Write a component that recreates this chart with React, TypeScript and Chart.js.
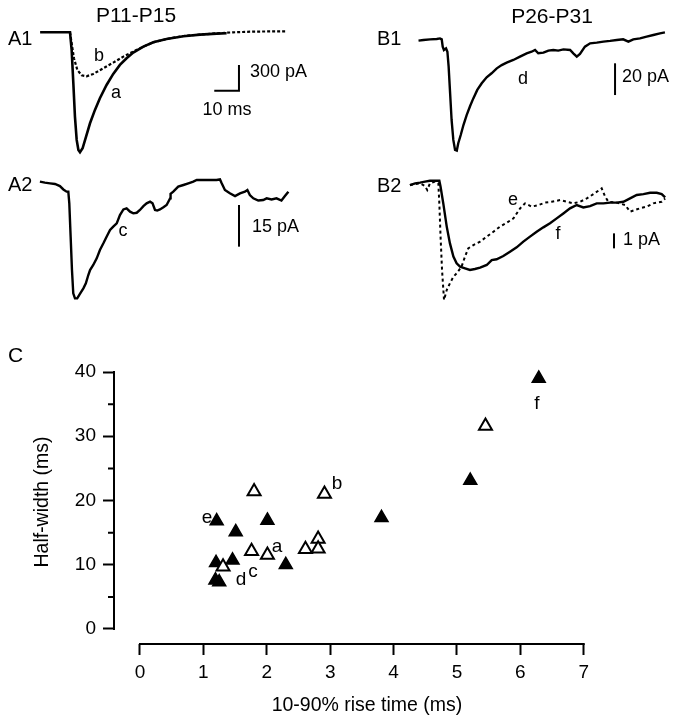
import React, { useEffect, useRef } from 'react';
import { Chart, registerables } from 'chart.js';

Chart.register(...registerables);

const FONT = "'Liberation Sans', Arial, Helvetica, sans-serif";
Chart.defaults.font.family = FONT;
Chart.defaults.color = '#000';

// ---------- Panel A1 (P11-P15): traces a (solid) and b (dashed) ----------
const a_time = [-12.1, 0, 0.67, 1.35, 2.0, 2.7, 3.4, 4.05, 5.1, 6.5, 8.1, 10.1, 12.1, 14.8, 17.5, 20.2, 22.9, 25.6, 29.7, 33.7, 39.1, 45.9, 52.6, 59.4, 63.4];
const a_pA = [0, 0, -206, -595, -984, -1256, -1373, -1400, -1354, -1218, -1062, -906, -770, -615, -486, -381, -303, -237, -167, -117, -78, -47, -27, -16, -12];
const b_time = [0, 0.67, 1.6, 2.97, 4.7, 6.7, 9.4, 13.5, 17.5, 21.6, 25.6, 29.7, 33.7, 39.1, 45.9, 52.6, 59.4, 66.0, 74.2, 87.7];
const b_pA = [0, -128, -303, -440, -502, -513, -486, -420, -354, -284, -226, -167, -117, -78, -43, -27, -12, 0, 8, 12];
const A1_barMs = 10;
const A1_barPA = 300;
const A1_barCorner = [68.4, -681];

// ---------- Panel A2: trace c ----------
const c_time = [-11.9, -9.9, -7.8, -5.8, -3.8, -2.4, -1.1, -0.4, 0, 0.54, 1.08, 1.6, 2.3, 3.2, 4.3, 5.7, 6.7, 7.7, 8.4, 9.7, 11.1, 12.4, 13.8, 15.1, 16.5, 17.8, 19.2, 20.5, 21.9, 23.2, 24.6, 25.9, 27.3, 28.6, 30.0, 31.3, 32.7, 33.7, 34.7, 35.6, 36.7, 38.1, 39.4, 40.8, 41.0, 42.1, 44.1, 46.2, 48.2, 50.2, 51.6, 54.3, 56.9, 59.6, 61.0, 61.7, 63.0, 65.0, 67.1, 69.1, 71.1, 72.1, 73.1, 74.5, 76.5, 78.5, 79.9, 81.9, 83.9, 85.9, 87.3, 88.7];
const c_pA = [0.6, 0.24, 0, -0.24, -1.0, -2.2, -3.0, -3.0, -7.2, -19.2, -31.2, -39.6, -41.4, -41.4, -39.8, -37.8, -36, -33, -31.2, -29.4, -27, -24, -21.6, -19.2, -16.8, -15.6, -14.4, -11.4, -9.4, -9.0, -10.2, -10.8, -10.6, -9.6, -8.2, -7.2, -6.6, -7.2, -9.6, -9.8, -9.4, -8.6, -7.8, -5.4, -3.8, -3.0, -1.2, -0.6, 0, 0.6, 1.2, 1.2, 1.2, 1.2, 1.4, 0, -2.4, -3.6, -4.6, -3.6, -3.0, -2.4, -4.2, -5.4, -6.2, -6.0, -5.4, -5.8, -5.4, -6.2, -4.6, -3.0];
const A2_barPA = 15;
const A2_barBottom = [68.7, -22.8];

// ---------- Panel B1 (P26-P31): trace d ----------
const d_time = [-9.4, -7.4, -4.7, -2.0, -0.7, 0, 0.4, 0.9, 1.75, 2.3, 2.8, 3.4, 4.0, 4.7, 5.4, 6.1, 6.7, 7.7, 8.8, 10.1, 11.5, 12.8, 14.4, 16.2, 18.2, 20.2, 22.3, 24.3, 26.3, 29.0, 31.7, 34.4, 36.4, 37.8, 39.1, 41.2, 43.2, 45.2, 47.2, 49.3, 52.0, 53.3, 54.7, 56.0, 58.0, 60.1, 62.8, 65.5, 68.2, 70.9, 73.5, 75.6, 77.6, 80.3, 83.0, 85.7, 88.4, 90.4];
const d_pA = [-0.4, 0, 0.4, 0.6, 1.0, 0.4, -4.2, -6.3, -5.3, -7.4, -16.8, -33.6, -50.4, -63, -69.3, -69.7, -65.1, -59.9, -53.6, -47.3, -41.6, -36.8, -31.5, -27.3, -23.5, -21, -17.9, -15.8, -14.3, -12.6, -10.5, -8.4, -7.4, -6.3, -8.4, -8.0, -6.7, -6.3, -6.7, -5.9, -6.3, -8.4, -10.5, -8.8, -4.2, -2.1, -1.7, -1.05, -0.6, 0, 0.4, -1.05, 0.4, 1.05, 2.1, 3.15, 4.2, 4.8];
const B1_barPA = 20;
const B1_barBottom = [70.2, -34.7];

// ---------- Panel B2: traces e (dashed) and f (solid) ----------
const e_time = [-11.5, -9.4, -7.4, -5.4, -4.5, -3.4, -1.3, 0, 0.4, 0.9, 1.5, 2.3, 3.4, 4.7, 6.1, 7.4, 9.4, 10.8, 12.1, 14.2, 16.9, 19.6, 22.3, 25.0, 27.7, 30.4, 33.1, 35.1, 37.8, 40.5, 43.2, 45.9, 49.3, 52.0, 54.7, 57.4, 60.1, 62.8, 66.1, 67.5, 68.8, 72.2, 75.6, 77.6, 79.6, 81.6, 84.3, 87.0, 90.4, 91.8];
const e_pA = [-0.07, 0, 0.04, -0.13, -0.4, 0.04, 0.16, 0.04, -1.29, -3.51, -5.73, -7.73, -7.07, -6.62, -6.18, -5.96, -5.51, -4.84, -4.29, -4.07, -3.84, -3.51, -3.18, -2.84, -2.58, -2.29, -1.62, -1.29, -1.51, -1.4, -1.24, -1.18, -1.07, -1.18, -1.29, -1.18, -0.96, -0.67, -0.29, -0.84, -1.18, -1.24, -1.4, -1.84, -1.73, -1.62, -1.51, -1.29, -1.18, -0.96];
const f_time = [-11.5, -9.4, -7.4, -5.4, -3.4, -1.3, 0.4, 0.9, 2.0, 3.4, 4.7, 6.1, 7.4, 8.8, 10.8, 12.8, 14.8, 16.9, 19.6, 21.6, 23.6, 26.3, 29.0, 31.7, 34.4, 37.1, 39.8, 42.5, 45.2, 47.9, 50.6, 53.3, 56.0, 58.7, 61.4, 64.1, 66.8, 69.5, 72.2, 74.9, 77.6, 80.3, 83.0, 85.7, 88.4, 90.4, 91.8];
const f_pA = [-0.07, 0.04, 0.09, 0.16, 0.22, 0.22, 0.22, -0.18, -1.29, -2.84, -3.96, -4.84, -5.29, -5.51, -5.62, -5.73, -5.67, -5.58, -5.4, -5.07, -5.02, -4.8, -4.51, -4.22, -3.84, -3.51, -3.18, -2.89, -2.62, -2.29, -1.96, -1.62, -1.4, -1.56, -1.47, -1.29, -1.29, -1.24, -1.24, -1.18, -0.96, -0.73, -0.67, -0.58, -0.58, -0.67, -0.89];
const B2_barPA = 1;
const B2_barBottom = [71.1, -4.29];

// ---------- Panel C: scatter ----------
const openRise = [1.80, 2.91, 2.81, 2.81, 2.61, 1.76, 2.01, 1.31, 5.45];
const openHalfWidth = [21.4, 21.0, 14.0, 12.5, 12.4, 12.1, 11.5, 9.7, 31.6];
const filledRise = [1.21, 2.01, 3.81, 1.51, 2.30, 1.46, 1.20, 1.19, 1.25, 5.21, 6.29];
const filledHalfWidth = [16.8, 16.9, 17.3, 15.1, 10.0, 10.7, 10.3, 7.6, 7.3, 23.1, 39.0];
const xTicks = [0, 1, 2, 3, 4, 5, 6, 7];
const yTicks = [0, 10, 20, 30, 40];
const yMinorTicks = [5, 15, 25, 35];

const zip = (xs: number[], ys: number[]) => xs.map((x, i) => ({ x, y: ys[i] }));

function traceDs(data: { x: number; y: number }[], dash: number[] = [], width = 2.4) {
  return {
    data,
    showLine: true,
    borderColor: '#000',
    backgroundColor: '#000',
    borderWidth: width,
    borderDash: dash,
    pointRadius: 0,
    fill: false,
    tension: 0,
  };
}

function makeTrace(canvas: HTMLCanvasElement, datasets: any[], range: number[]) {
  return new Chart(canvas, {
    type: 'scatter',
    data: { datasets },
    options: {
      animation: false,
      responsive: false,
      events: [],
      layout: { padding: 0 },
      plugins: { legend: { display: false }, tooltip: { enabled: false } },
      scales: {
        x: { type: 'linear', display: false, min: range[0], max: range[1] },
        y: { type: 'linear', display: false, min: range[2], max: range[3] },
      },
    },
  } as any);
}

const axesPlugin = {
  id: 'detachedAxes',
  afterDraw(chart: any) {
    const { ctx, scales } = chart;
    const x = scales.x;
    const y = scales.y;
    const area = chart.chartArea;
    ctx.save();
    ctx.strokeStyle = '#000';
    ctx.lineWidth = 2;
    ctx.beginPath();
    ctx.moveTo(x.getPixelForValue(xTicks[0]) - 1, area.bottom);
    ctx.lineTo(x.getPixelForValue(xTicks[xTicks.length - 1]) + 1, area.bottom);
    ctx.moveTo(area.left, y.getPixelForValue(yTicks[0]) + 1);
    ctx.lineTo(area.left, y.getPixelForValue(yTicks[yTicks.length - 1]) - 1);
    yMinorTicks.forEach((v) => {
      const py = y.getPixelForValue(v);
      ctx.moveTo(area.left - 6, py);
      ctx.lineTo(area.left, py);
    });
    ctx.stroke();
    ctx.restore();
  },
};

const Label = ({ x, y, text, size = 18, left = false }: { x: number; y: number; text: string; size?: number; left?: boolean }) => (
  <div
    style={{
      position: 'absolute',
      left: x,
      top: y,
      transform: left ? 'translate(0,-50%)' : 'translate(-50%,-50%)',
      fontSize: size,
      lineHeight: 1,
      whiteSpace: 'nowrap',
      fontFamily: FONT,
      color: '#000',
    }}
  >
    {text}
  </div>
);

export default function App() {
  const rA1 = useRef<HTMLCanvasElement>(null);
  const rA2 = useRef<HTMLCanvasElement>(null);
  const rB1 = useRef<HTMLCanvasElement>(null);
  const rB2 = useRef<HTMLCanvasElement>(null);
  const rC = useRef<HTMLCanvasElement>(null);

  useEffect(() => {
    const charts: Chart[] = [];
    charts.push(
      makeTrace(
        rA1.current!,
        [
          traceDs(zip(a_time, a_pA), [], 2.6),
          traceDs(zip(b_time, b_pA), [3, 2], 2.2),
          traceDs(
            [
              { x: A1_barCorner[0] - A1_barMs, y: A1_barCorner[1] },
              { x: A1_barCorner[0], y: A1_barCorner[1] },
              { x: A1_barCorner[0], y: A1_barCorner[1] + A1_barPA },
            ],
            [],
            2
          ),
        ],
        [-28.34, 109.3, -1549, 377]
      )
    );
    charts.push(
      makeTrace(
        rA2.current!,
        [
          traceDs(zip(c_time, c_pA)),
          traceDs(
            [
              { x: A2_barBottom[0], y: A2_barBottom[1] },
              { x: A2_barBottom[0], y: A2_barBottom[1] + A2_barPA },
            ],
            [],
            2
          ),
        ],
        [-28.06, 109.6, -49.2, 6.6]
      )
    );
    charts.push(
      makeTrace(
        rB1.current!,
        [
          traceDs(zip(d_time, d_pA)),
          traceDs(
            [
              { x: B1_barBottom[0], y: B1_barBottom[1] },
              { x: B1_barBottom[0], y: B1_barBottom[1] + B1_barPA },
            ],
            [],
            2
          ),
        ],
        [-41.2, 95.7, -78.8, 25.2]
      )
    );
    charts.push(
      makeTrace(
        rB2.current!,
        [
          traceDs(zip(f_time, f_pA)),
          traceDs(zip(e_time, e_pA), [3, 3], 2),
          traceDs(
            [
              { x: B2_barBottom[0], y: B2_barBottom[1] },
              { x: B2_barBottom[0], y: B2_barBottom[1] + B2_barPA },
            ],
            [],
            2
          ),
        ],
        [-39.8, 97.0, -9.07, 1.27]
      )
    );

    charts.push(
      new Chart(rC.current!, {
        type: 'scatter',
        data: {
          datasets: [
            {
              label: 'P11-P15',
              data: zip(openRise, openHalfWidth),
              pointStyle: 'triangle',
              pointRadius: 7.5,
              borderWidth: 2,
              borderColor: '#000',
              backgroundColor: '#fff',
            },
            {
              label: 'P26-P31',
              data: zip(filledRise, filledHalfWidth),
              pointStyle: 'triangle',
              pointRadius: 7.5,
              borderWidth: 1.5,
              borderColor: '#000',
              backgroundColor: '#000',
            },
          ],
        },
        options: {
          animation: false,
          responsive: false,
          events: [],
          layout: { padding: { left: 0, right: 58, top: 30, bottom: 0 } },
          plugins: { legend: { display: false }, tooltip: { enabled: false } },
          scales: {
            x: {
              type: 'linear',
              min: -0.41,
              max: 7.572,
              afterBuildTicks: (s: any) => {
                s.ticks = xTicks.map((v) => ({ value: v }));
              },
              afterFit: (s: any) => {
                s.height = 76;
              },
              border: { display: false },
              grid: { display: true, drawOnChartArea: false, drawTicks: true, tickLength: 11, tickWidth: 2, tickColor: '#000' },
              ticks: { color: '#000', font: { size: 19, family: FONT }, padding: 6, maxRotation: 0, autoSkip: false },
              title: { display: true, text: '10-90% rise time (ms)', color: '#000', font: { size: 19.5, family: FONT }, padding: { top: 0, bottom: 3 } },
            },
            y: {
              type: 'linear',
              min: -2.335,
              max: 41.87,
              afterBuildTicks: (s: any) => {
                s.ticks = yTicks.map((v) => ({ value: v }));
              },
              afterFit: (s: any) => {
                s.width = 114;
              },
              border: { display: false },
              grid: { display: true, drawOnChartArea: false, drawTicks: true, tickLength: 11, tickWidth: 2, tickColor: '#000' },
              ticks: { color: '#000', font: { size: 19, family: FONT }, padding: 7, autoSkip: false },
              title: { display: true, text: 'Half-width (ms)', color: '#000', font: { size: 19.5, family: FONT }, padding: { top: 31, bottom: 0 } },
            },
          },
        },
        plugins: [axesPlugin],
      } as any)
    );

    return () => charts.forEach((c) => c.destroy());
  }, []);

  const cv = (left: number, top: number): React.CSSProperties => ({ position: 'absolute', left, top, display: 'block' });

  return (
    <div style={{ position: 'fixed', left: 0, top: 0, width: 678, height: 720, background: '#fff', overflow: 'hidden' }}>
      <canvas ref={rA1} width={340} height={165} style={cv(0, 0)} />
      <canvas ref={rA2} width={340} height={155} style={cv(0, 165)} />
      <canvas ref={rB1} width={338} height={165} style={cv(340, 0)} />
      <canvas ref={rB2} width={338} height={155} style={cv(340, 165)} />
      <canvas ref={rC} width={678} height={390} style={cv(0, 330)} />

      <Label x={136} y={14} text="P11-P15" size={21} />
      <Label x={8} y={38} text="A1" size={20} left />
      <Label x={116} y={92} text="a" />
      <Label x={99} y={55} text="b" />
      <Label x={250} y={71} text="300 pA" left />
      <Label x={227} y={109} text="10 ms" />
      <Label x={8} y={184} text="A2" size={20} left />
      <Label x={123} y={230} text="c" />
      <Label x={252} y={226} text="15 pA" left />

      <Label x={552} y={15} text="P26-P31" size={21} />
      <Label x={377} y={38} text="B1" size={20} left />
      <Label x={523} y={78} text="d" />
      <Label x={622} y={76} text="20 pA" left />
      <Label x={377} y={185} text="B2" size={20} left />
      <Label x={513} y={199} text="e" />
      <Label x={558} y={233} text="f" />
      <Label x={623} y={239} text="1 pA" left />

      <Label x={8} y={354} text="C" size={21} left />
      <Label x={207} y={516} text="e" size={19} />
      <Label x={337} y={482} text="b" size={19} />
      <Label x={277} y={545} text="a" size={19} />
      <Label x={253} y={570} text="c" size={19} />
      <Label x={241} y={578} text="d" size={19} />
      <Label x={537} y={402} text="f" size={19} />
    </div>
  );
}
